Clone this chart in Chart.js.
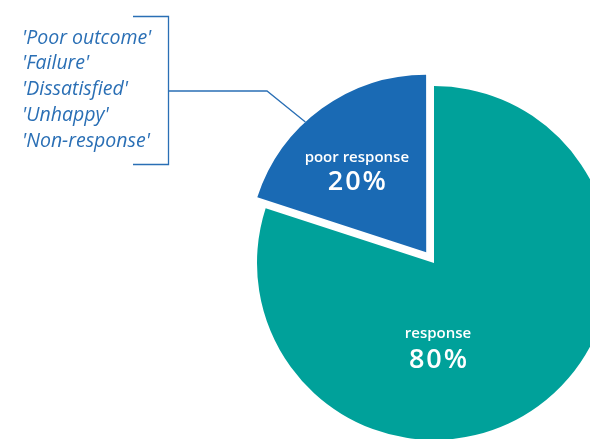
<!DOCTYPE html>
<html>
<head>
<meta charset="utf-8">
<script src="https://cdn.jsdelivr.net/npm/chart.js@4"></script>
<style>
  html, body { margin: 0; padding: 0; background: #fff; }
  canvas { display: block; }
</style>
</head>
<body>
<canvas id="myChart" width="590" height="439"></canvas>
<script>
// data
const categories = ['response', 'poor response'];
const values = [80, 20];
const percentLabels = ['80%', '20%'];
const sliceColors = ['#00a19a', '#1a6ab4'];
const sliceOffsets = [0, 53];
const synonyms = ["'Poor outcome'", "'Failure'", "'Dissatisfied'", "'Unhappy'", "'Non-response'"];

const lineBlue = '#2a6fb5';

// how far chart.js actually moves an exploded arc (v4: offset/4 plus a small fix)
function shiftOf(arc, off) {
    const circ = arc.endAngle - arc.startAngle;
    const o = off / 4;
    return o + o * (1 - Math.sin(Math.min(Math.PI, circ)));
}

// text inside the slices + bracket callout
const annotations = {
    id: 'annotations',
    afterDatasetsDraw(chart) {
        const ctx = chart.ctx;
        const arcs = chart.getDatasetMeta(0).data;
        ctx.save();
        ctx.fillStyle = '#fff';
        ctx.textAlign = 'center';
        ctx.textBaseline = 'middle';

        // label spots relative to each slice's (moved) apex
        const labelShift = [[4, 71, 97], [-69, -94, -69]];
        arcs.forEach((arc, i) => {
            const mid = (arc.startAngle + arc.endAngle) / 2;
            const d = shiftOf(arc, sliceOffsets[i]);
            const cx = arc.x + Math.cos(mid) * d;
            const cy = arc.y + Math.sin(mid) * d;
            const s = labelShift[i];
            ctx.letterSpacing = '0px';
            ctx.font = '600 15px "Open Sans"';
            ctx.fillText(categories[i], cx + s[0], cy + s[1]);
            ctx.letterSpacing = '2px';
            ctx.font = '600 27px "Open Sans"';
            ctx.fillText(percentLabels[i], cx + s[0] + 1, cy + s[2]);
        });
        ctx.letterSpacing = '0px';

        // synonyms list
        ctx.fillStyle = lineBlue;
        ctx.textAlign = 'left';
        ctx.font = 'italic 19.5px "Open Sans"';
        synonyms.forEach((t, i) => {
            ctx.fillText(t, 22, 38 + i * 25.8);
        });

        // bracket
        ctx.strokeStyle = lineBlue;
        ctx.lineWidth = 1.3;
        ctx.beginPath();
        ctx.moveTo(133, 16.5);
        ctx.lineTo(168.5, 16.5);
        ctx.lineTo(168.5, 164.5);
        ctx.lineTo(133, 164.5);
        ctx.stroke();

        // connector to the poor response slice edge
        const blue = arcs[1];
        const mid = (blue.startAngle + blue.endAngle) / 2;
        const d = shiftOf(blue, sliceOffsets[1]);
        const bx = blue.x + Math.cos(mid) * d;
        const by = blue.y + Math.sin(mid) * d;
        const a = mid - 0.12;
        const ex = bx + Math.cos(a) * blue.outerRadius;
        const ey = by + Math.sin(a) * blue.outerRadius;
        ctx.beginPath();
        ctx.moveTo(168.5, 91);
        ctx.lineTo(267, 91);
        ctx.lineTo(ex, ey);
        ctx.stroke();
        ctx.restore();
    }
};

const ctx = document.getElementById('myChart').getContext('2d');
const myChart = new Chart(ctx, {
    type: 'pie',
    data: {
        labels: categories,
        datasets: [{
            data: values,
            backgroundColor: sliceColors,
            borderWidth: 0,
            offset: sliceOffsets,
            clip: false
        }]
    },
    options: {
        responsive: false,
        animation: false,
        radius: 177,
        layout: { padding: { left: 278, right: 0, top: 87, bottom: 0 } },
        plugins: {
            legend: { display: false },
            tooltip: { enabled: false }
        }
    },
    plugins: [annotations]
});
</script>
</body>
</html>
